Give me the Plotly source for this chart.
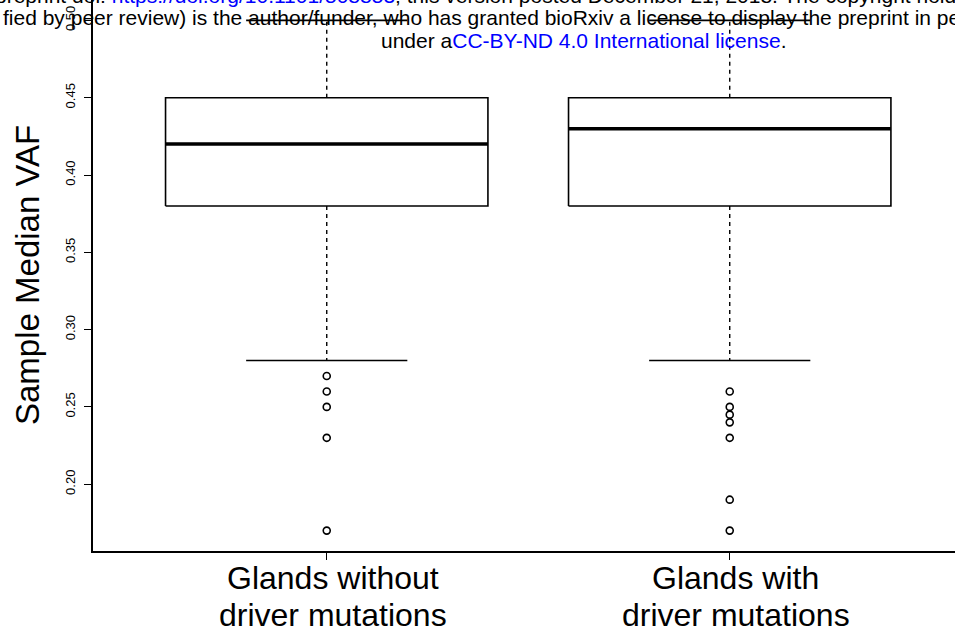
import plotly.graph_objects as go

# Group labels (two lines each) and per-group box statistics (sample median VAF)
group_line1 = ["Glands without", "Glands with"]
group_line2 = ["driver mutations", "driver mutations"]
positions = [1, 2]
q1 = [0.38, 0.38]
median = [0.42, 0.43]
q3 = [0.45, 0.45]
whisker_low = [0.28, 0.28]
whisker_high = [0.50, 0.50]
outliers = [
    [0.27, 0.26, 0.25, 0.23, 0.17],
    [0.26, 0.25, 0.245, 0.24, 0.23, 0.19, 0.17],
]
ytick_vals = [0.20, 0.25, 0.30, 0.35, 0.40, 0.45, 0.50]
ytick_text = ["0.20", "0.25", "0.30", "0.35", "0.40", "0.45", "0.50"]

BOX_HALF = 0.4
CAP_HALF = 0.2
FONT = "Liberation Sans, Arial, sans-serif"
W, H = 955, 637
ML, MB = 93, 86
PW, PH = W - ML, H - MB

fig = go.Figure()
line_kw = dict(mode="lines", hoverinfo="skip", showlegend=False)

for i, x in enumerate(positions):
    # box body
    fig.add_trace(go.Scatter(
        x=[x - BOX_HALF, x + BOX_HALF, x + BOX_HALF, x - BOX_HALF, x - BOX_HALF],
        y=[q1[i], q1[i], q3[i], q3[i], q1[i]],
        line=dict(color="black", width=1.6), **line_kw))
    # median
    fig.add_trace(go.Scatter(
        x=[x - BOX_HALF, x + BOX_HALF], y=[median[i], median[i]],
        line=dict(color="black", width=3.5), **line_kw))
    # dashed whiskers
    fig.add_trace(go.Scatter(
        x=[x, x], y=[q3[i], whisker_high[i]],
        line=dict(color="black", width=1.4, dash="4px,4px"), **line_kw))
    fig.add_trace(go.Scatter(
        x=[x, x], y=[q1[i], whisker_low[i]],
        line=dict(color="black", width=1.4, dash="4px,4px"), **line_kw))
    # staples
    for w in (whisker_high[i], whisker_low[i]):
        fig.add_trace(go.Scatter(
            x=[x - CAP_HALF, x + CAP_HALF], y=[w, w],
            line=dict(color="black", width=1.6), **line_kw))
    # outlying points
    fig.add_trace(go.Scatter(
        x=[x] * len(outliers[i]), y=outliers[i], mode="markers",
        marker=dict(symbol="circle-open", size=7, color="black",
                    line=dict(width=1.6)),
        hoverinfo="skip", showlegend=False))

fig.update_layout(
    width=W, height=H,
    margin=dict(l=ML, r=0, t=0, b=MB),
    paper_bgcolor="white", plot_bgcolor="white",
    font=dict(family=FONT, color="black"),
    xaxis=dict(
        range=[0.42, 2.559], tickvals=positions, showticklabels=False,
        ticks="outside", ticklen=7, tickwidth=1, tickcolor="black",
        showline=True, linecolor="black", linewidth=1.6,
        showgrid=False, zeroline=False, automargin=False,
    ),
    yaxis=dict(
        range=[0.1568, 0.5132], tickvals=ytick_vals, ticktext=ytick_text,
        tickangle=-90, ticks="outside", ticklen=7, tickwidth=1,
        tickcolor="black", showline=True, linecolor="black", linewidth=1.6,
        showgrid=False, zeroline=False, automargin=False,
        tickfont=dict(size=13, family=FONT), ticklabelstandoff=4,
    ),
)

# category labels under each box, two lines
for x, l1, l2 in zip(positions, group_line1, group_line2):
    for text, py in ((l1, 578), (l2, 615)):
        fig.add_annotation(
            text=text, xref="x", yref="paper", x=x, y=1 - py / PH,
            xanchor="center", yanchor="middle", showarrow=False, xshift=6,
            font=dict(size=32, family=FONT, color="black"))

# y-axis title
fig.add_annotation(
    text="Sample Median VAF", xref="paper", yref="paper",
    x=(27 - ML) / PW, y=1 - 275 / PH, textangle=-90,
    xanchor="center", yanchor="middle", showarrow=False,
    font=dict(size=33, family=FONT, color="black"))

# preprint header lines running across the top
header = [
    ("preprint doi: <span style='color:blue'>https://doi.org/10.1101/508853</span>; "
     "this version posted December 21, 2018. The copyright holder for this preprint (which was not certi",
     -7, -5, "left"),
    ("fied by peer review) is the author/funder, who has granted bioRxiv a license to display "
     "the preprint in perpetuity. It is made available",
     1, 17, "left"),
    ("under a<span style='color:blue'>CC-BY-ND 4.0 International license</span>.",
     583, 40, "center"),
]
for text, px, py, anchor in header:
    fig.add_annotation(
        text=text, xref="paper", yref="paper",
        x=(px - ML) / PW, y=1 - py / PH,
        xanchor=anchor, yanchor="middle", showarrow=False,
        font=dict(size=21, family=FONT, color="black"))

fig.write_html("out.html")
